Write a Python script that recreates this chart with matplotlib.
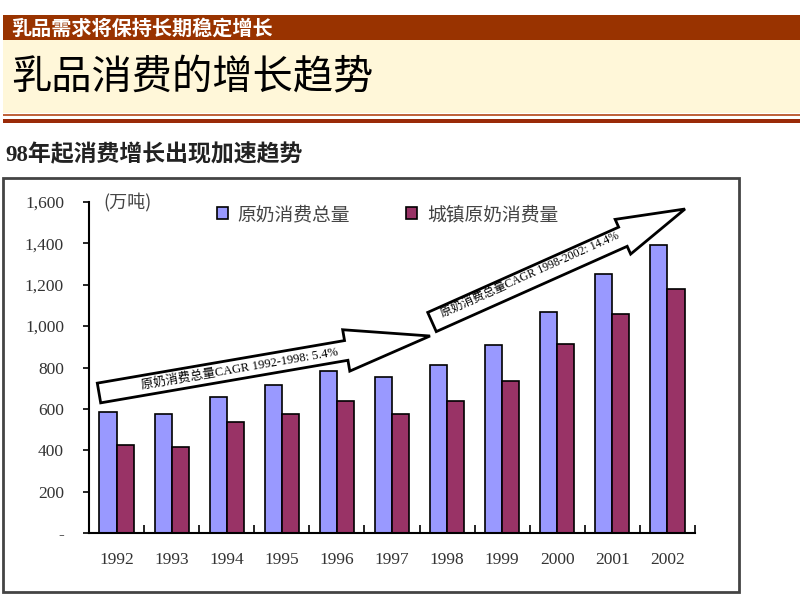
import numpy as np
import matplotlib.pyplot as plt
from matplotlib.patches import Rectangle, Polygon

## -- DONNEES -- ##
years = ['1992', '1993', '1994', '1995', '1996', '1997', '1998', '1999', '2000', '2001', '2002']
total_milk = [585, 577, 659, 715, 783, 754, 810, 909, 1068, 1252, 1390]   # 原奶消费总量
urban_milk = [424, 416, 535, 577, 638, 577, 638, 737, 913, 1060, 1178]    # 城镇原奶消费量
y_ticks = [0, 200, 400, 600, 800, 1000, 1200, 1400, 1600]
y_tick_labels = ['-', '200', '400', '600', '800', '1,000', '1,200', '1,400', '1,600']
series_names = ['原奶消费总量', '城镇原奶消费量']
arrow_texts = ['原奶消费总量CAGR 1992-1998: 5.4%', '原奶消费总量CAGR 1998-2002: 14.4%']

SERIF = ['Liberation Serif', 'Noto Sans CJK SC']
CJK = ['Noto Sans CJK SC', 'DejaVu Sans']
plt.rcParams['font.family'] = SERIF

W, H = 800, 608
fig = plt.figure(figsize=(8, 6.08), dpi=100)


def px(x, y):
    # pixels de l'image (origine en haut a gauche) -> fraction de figure
    return (x / W, 1 - y / H)


def rect_px(x0, y0, x1, y1, **kw):
    fig.patches.append(Rectangle(px(x0, y1), (x1 - x0) / W, (y1 - y0) / H,
                                 transform=fig.transFigure, **kw))


def block_arrow(tail, tip, shaft_w, head_w, head_l):
    t = np.array(tail, float)
    p = np.array(tip, float)
    d = (p - t) / np.linalg.norm(p - t)
    n = np.array([-d[1], d[0]])
    b = p - d * head_l
    pts = [t + n * shaft_w / 2, b + n * shaft_w / 2, b + n * head_w / 2, p,
           b - n * head_w / 2, b - n * shaft_w / 2, t - n * shaft_w / 2]
    pts = [px(*q) for q in pts]
    fig.patches.append(Polygon(pts, closed=True, transform=fig.transFigure,
                               facecolor='white', edgecolor='black', lw=2, zorder=5))
    ang = np.degrees(np.arctan2(-d[1], d[0]))
    return ang


## -- EN-TETE -- ##
rect_px(3, 15, 800, 40, facecolor='#993300', edgecolor='none')
rect_px(3, 40, 800, 113, facecolor='#FFF7D9', edgecolor='none')
rect_px(3, 114, 800, 116, facecolor='#C0643C', edgecolor='none')
rect_px(3, 119, 800, 123, facecolor='#9A2A08', edgecolor='none')
fig.text(*px(11, 28), '乳品需求将保持长期稳定增长', family=CJK, fontsize=14.5,
         fontweight='bold', color='white', va='center', ha='left')
fig.text(*px(11, 78), '乳品消费的增长趋势', family=CJK, fontsize=29,
         color='black', va='center', ha='left')
fig.text(*px(5, 155), '98年起消费增长出现加速趋势', family=SERIF, fontsize=16.5,
         fontweight='bold', color='#222222', va='center', ha='left')

# cadre du graphique
rect_px(3, 178, 739, 592, facecolor='none', edgecolor='#444444', lw=2)

## -- GRAPHIQUE -- ##
ax = fig.add_axes([89 / W, 1 - 533 / H, 606 / W, 331 / H])
x = np.arange(len(years))
bw = 0.31
ax.bar(x - bw / 2, total_milk, bw, color='#9999FF', edgecolor='black', lw=1.2,
       label=series_names[0])
ax.bar(x + bw / 2, urban_milk, bw, color='#993366', edgecolor='black', lw=1.2,
       label=series_names[1])

ax.set_xlim(-0.5, len(years) - 0.5)
ax.set_ylim(0, 1600)
ax.set_yticks(y_ticks)
ax.set_yticklabels(y_tick_labels, fontsize=12.5, color='#333333')
ax.tick_params(axis='y', direction='out', length=4, width=1.2, pad=14)
ax.set_xticks(x)
ax.set_xticklabels(years, fontsize=12.5, color='#333333')
ax.tick_params(axis='x', length=0, pad=14)
ax.set_xticks(np.arange(len(years) + 1) - 0.5, minor=True)
ax.tick_params(axis='x', which='minor', direction='in', length=6, width=1.2)
for s in ['top', 'right']:
    ax.spines[s].set_visible(False)
for s in ['left', 'bottom']:
    ax.spines[s].set_linewidth(1.5)
ax.patch.set_alpha(0)

leg = ax.legend(loc='upper left', bbox_to_anchor=(0.183, 1.045), ncol=2, frameon=False,
                prop={'family': CJK, 'size': 13.5}, handlelength=0.6, handleheight=0.6,
                columnspacing=3.0, handletextpad=0.5)
for t in leg.get_texts():
    t.set_color('#444444')
fig.text(*px(103, 203), '(万吨)', family=CJK, fontsize=13, color='#444444',
         va='center', ha='left')

## -- FLECHES -- ##
a1 = block_arrow((99, 393), (430, 336), 20, 42, 85)
fig.text(*px(240, 369), arrow_texts[0], family=SERIF, fontsize=9, rotation=a1,
         rotation_mode='anchor', ha='center', va='center', zorder=6)
a2 = block_arrow((432, 322), (685, 209), 21, 38, 68)
fig.text(*px(530, 275), arrow_texts[1], family=SERIF, fontsize=8.5, rotation=a2,
         rotation_mode='anchor', ha='center', va='center', zorder=6)

plt.savefig('out.png', dpi=100)
